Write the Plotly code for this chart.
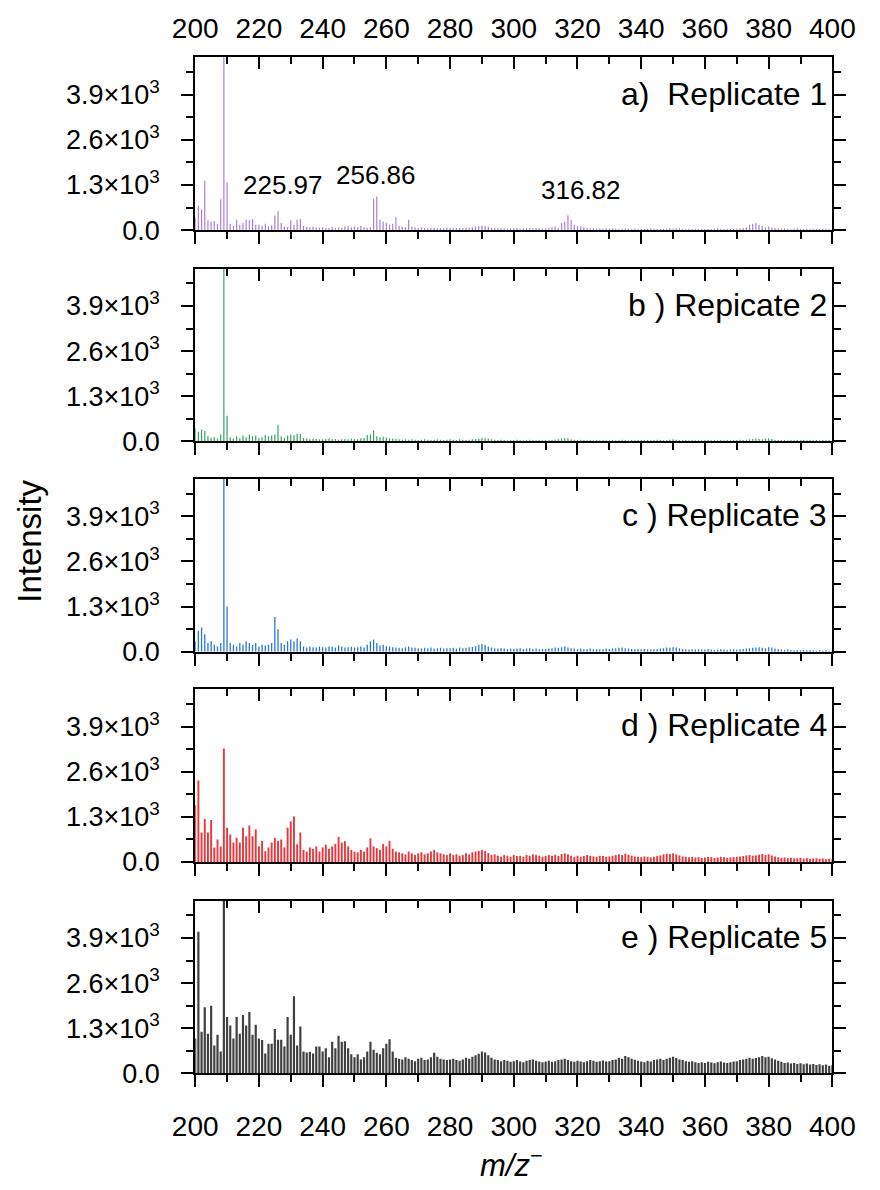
import plotly.graph_objects as go

# m/z grid (nominal masses)
mz = list(range(200, 401))

# ---- intensities (one value per nominal mass 200..400) ----
rep1 = [
    370, 710, 600, 1420, 280, 250, 260, 180, 890, 5200,   # 200-209
    1370, 180, 120, 300, 150, 200, 300, 280, 320, 150,    # 210-219
    150, 120, 180, 100, 130, 420, 540, 200, 100, 90,      # 220-229
    280, 150, 300, 320, 120, 90, 80, 100, 80, 70,         # 230-239
    80, 60, 70, 90, 60, 80, 70, 100, 120, 80,             # 240-249
    100, 90, 120, 80, 70, 90, 900, 970, 300, 250,         # 250-259
    200, 150, 180, 370, 120, 100, 90, 300, 100, 80,       # 260-269
    60, 80, 60, 50, 70, 60, 50, 60, 50, 70,               # 270-279
    60, 50, 60, 70, 50, 60, 70, 80, 100, 120,             # 280-289
    130, 120, 100, 70, 60, 50, 60, 50, 40, 50,            # 290-299
    50, 60, 40, 50, 60, 70, 50, 60, 50, 40,               # 300-309
    50, 60, 80, 100, 70, 200, 250, 430, 300, 150,         # 310-319
    120, 100, 80, 60, 50, 60, 40, 50, 40, 50,             # 320-329
    40, 50, 40, 30, 40, 50, 40, 30, 40, 30,               # 330-339
    40, 30, 40, 50, 40, 30, 40, 30, 40, 50,               # 340-349
    40, 60, 50, 40, 30, 40, 30, 40, 30, 40,               # 350-359
    30, 40, 30, 40, 50, 40, 30, 40, 30, 40,               # 360-369
    40, 50, 60, 80, 150, 180, 200, 150, 120, 80,          # 370-379
    100, 80, 60, 50, 40, 50, 40, 30, 40, 50,              # 380-389
    40, 30, 40, 30, 40, 30, 40, 30, 40, 30,               # 390-399
    30,                                                   # 400
]

rep2 = [
    370, 280, 340, 300, 150, 100, 120, 80, 200, 5200,
    740, 120, 80, 150, 100, 170, 120, 200, 150, 170,
    100, 120, 180, 150, 170, 200, 480, 150, 100, 170,
    200, 180, 220, 210, 100, 80, 60, 80, 70, 60,
    60, 70, 80, 60, 70, 50, 60, 70, 60, 80,
    70, 60, 90, 100, 180, 200, 310, 150, 120, 130,
    110, 90, 80, 70, 60, 50, 60, 50, 60, 50,
    40, 50, 60, 50, 40, 50, 60, 50, 40, 50,
    60, 50, 40, 60, 50, 40, 50, 60, 70, 80,
    100, 90, 80, 60, 50, 40, 50, 40, 30, 40,
    40, 50, 40, 30, 40, 50, 40, 30, 40, 30,
    40, 30, 40, 50, 60, 80, 100, 90, 60, 50,
    40, 50, 40, 30, 40, 30, 40, 30, 40, 30,
    30, 40, 30, 40, 50, 40, 30, 40, 30, 40,
    40, 30, 40, 30, 40, 50, 40, 30, 40, 50,
    60, 50, 40, 30, 40, 30, 40, 30, 40, 30,
    30, 40, 30, 40, 30, 40, 30, 40, 30, 40,
    40, 50, 40, 50, 60, 70, 80, 70, 60, 80,
    90, 70, 50, 40, 30, 40, 30, 40, 30, 40,
    30, 40, 30, 40, 30, 40, 30, 40, 30, 30,
    30,
]

rep3 = [
    300, 600, 700, 500, 250, 300, 200, 150, 250, 5200,
    1300, 250, 200, 150, 250, 200, 300, 250, 200, 250,
    150, 200, 180, 200, 250, 1000, 650, 250, 200, 300,
    350, 300, 380, 300, 150, 120, 150, 130, 120, 150,
    130, 120, 150, 140, 120, 180, 150, 120, 130, 140,
    120, 130, 150, 120, 200, 300, 350, 250, 180, 200,
    160, 150, 130, 120, 110, 100, 130, 150, 120, 110,
    100, 90, 110, 100, 120, 90, 100, 110, 90, 100,
    100, 110, 90, 120, 100, 110, 130, 140, 160, 200,
    220, 200, 150, 120, 100, 90, 100, 90, 80, 90,
    80, 90, 100, 80, 90, 100, 80, 90, 70, 80,
    80, 90, 100, 120, 110, 130, 150, 120, 100, 90,
    80, 90, 70, 80, 90, 70, 80, 70, 80, 90,
    80, 90, 100, 110, 120, 100, 90, 80, 70, 80,
    70, 80, 70, 60, 70, 80, 90, 100, 120, 110,
    130, 120, 100, 80, 70, 60, 70, 60, 70, 60,
    60, 70, 60, 50, 60, 70, 60, 50, 60, 70,
    60, 70, 80, 90, 100, 110, 120, 130, 110, 100,
    130, 120, 90, 70, 60, 50, 60, 50, 40, 50,
    40, 50, 40, 50, 40, 30, 40, 30, 40, 30,
    30,
]

rep4 = [
    1640, 2350, 850, 1240, 850, 1210, 420, 650, 450, 3270,
    990, 790, 560, 700, 560, 990, 740, 1050, 740, 940,
    450, 610, 310, 420, 560, 700, 610, 650, 420, 990,
    1170, 1310, 510, 850, 350, 300, 420, 380, 450, 300,
    420, 500, 380, 450, 520, 720, 560, 600, 450, 350,
    300, 280, 350, 300, 420, 680, 450, 400, 350, 520,
    450, 610, 380, 300, 280, 250, 220, 300, 250, 200,
    250, 280, 220, 250, 300, 350, 280, 250, 220, 200,
    250, 200, 220, 180, 200, 250, 220, 280, 300, 320,
    350, 320, 260, 200, 220, 180, 150, 200, 180, 150,
    200, 170, 180, 150, 200, 180, 220, 200, 180, 150,
    170, 200, 180, 210, 170, 230, 250, 220, 180, 150,
    180, 150, 170, 200, 180, 160, 150, 180, 170, 150,
    160, 180, 200, 220, 200, 240, 210, 180, 160, 150,
    140, 160, 150, 130, 150, 170, 190, 220, 240, 230,
    250, 220, 190, 160, 150, 140, 150, 130, 140, 120,
    130, 150, 140, 120, 130, 150, 140, 120, 130, 140,
    150, 160, 170, 190, 200, 180, 190, 210, 230, 200,
    220, 190, 160, 140, 120, 130, 110, 120, 100, 110,
    120, 100, 110, 90, 100, 110, 90, 100, 80, 90,
    80,
]

rep5 = [
    1000, 4080, 1200, 1900, 1140, 1950, 800, 1110, 630, 5200,
    1620, 1380, 1000, 1620, 1140, 1680, 1380, 1770, 1110, 1400,
    1000, 960, 570, 855, 855, 1280, 970, 970, 770, 1620,
    1110, 2220, 800, 1350, 630, 600, 620, 570, 770, 770,
    630, 720, 460, 910, 720, 1080, 910, 920, 720, 550,
    460, 550, 400, 460, 630, 910, 680, 590, 550, 720,
    855, 980, 630, 450, 420, 400, 460, 420, 380, 350,
    420, 450, 380, 400, 460, 590, 480, 420, 400, 380,
    400, 420, 380, 360, 400, 450, 420, 480, 520, 560,
    630, 600, 520, 450, 400, 380, 350, 380, 360, 330,
    350, 380, 340, 320, 360, 380, 400, 360, 340, 320,
    340, 360, 330, 350, 380, 400, 420, 380, 350, 330,
    360, 340, 320, 350, 380, 360, 330, 350, 370, 340,
    350, 380, 400, 450, 420, 500, 460, 420, 390, 360,
    340, 320, 360, 340, 380, 400, 420, 380, 420, 450,
    480, 440, 400, 380, 350, 330, 350, 320, 300, 320,
    300, 330, 310, 290, 320, 340, 310, 300, 320, 340,
    350, 380, 400, 420, 450, 420, 440, 460, 500, 460,
    480, 430, 400, 360, 330, 300, 310, 280, 300, 270,
    290, 260, 280, 250, 270, 240, 260, 230, 250, 220,
    230,
]

series = [rep1, rep2, rep3, rep4, rep5]
panel_labels = ["a)\u00a0 Replicate 1", "b )\u00a0Repicate 2", "c )\u00a0Replicate 3",
                "d )\u00a0Replicate 4", "e )\u00a0Replicate 5"]
colors = ["#a97fd8", "#35a466", "#2a78d2", "#e8383d", "#404040"]
line_widths = [1.2, 1.2, 1.3, 1.9, 2.2]

peak_labels = ["225.97", "256.86", "316.82"]
peak_label_x = [227.7, 256.8, 321.0]
peak_label_y = [1310, 1580, 1150]

y_tickvals = [0, 1300, 2600, 3900]
y_ticktext = ["0.0", "1.3×10<sup>3</sup>", "2.6×10<sup>3</sup>", "3.9×10<sup>3</sup>"]
y_minor = [650, 1950, 3250, 4550]
x_range = [200, 400]
y_range = [0, 4980]

W, H = 880, 1190
left_px, right_px = 181.7, 854.0
panel_tops = [58, 272, 485, 698, 912]
panel_h = 175

FONT = "Liberation Sans, Arial, sans-serif"

fig = go.Figure()
layout = dict(
    width=W, height=H, margin=dict(l=0, r=0, t=0, b=0),
    paper_bgcolor="white", plot_bgcolor="white", showlegend=False,
    font=dict(family=FONT, color="black"),
)

n = len(series)
for i in range(n):
    k = "" if i == 0 else str(i + 1)
    tk = str(n + 1 + i)
    xs, ys = [], []
    for m, v in zip(mz, series[i]):
        xs += [m, m, None]
        ys += [0, v, None]
    fig.add_trace(go.Scatter(
        x=xs, y=ys, mode="lines", line=dict(color=colors[i], width=line_widths[i]),
        xaxis="x" + k, yaxis="y" + k, hoverinfo="skip", showlegend=False))
    # empty trace so that the top (inward-tick) axis gets drawn
    fig.add_trace(go.Scatter(
        x=[None], y=[None], mode="lines", xaxis="x" + tk, yaxis="y" + k,
        hoverinfo="skip", showlegend=False))

    top = panel_tops[i]
    y0 = 1 - (top + panel_h) / H
    y1 = 1 - top / H
    xdom = [left_px / W, right_px / W]

    layout["xaxis" + k] = dict(
        domain=xdom, anchor="y" + k, range=x_range, tickmode="linear", tick0=200, dtick=20,
        ticks="outside", ticklen=12, tickwidth=2, tickcolor="black",
        showline=True, linewidth=2, linecolor="black", mirror=False,
        showgrid=False, zeroline=False, showticklabels=(i == n - 1),
        tickfont=dict(size=28, family=FONT, color="black"), ticklabelstandoff=15,
        minor=dict(dtick=10, tick0=200, ticks="outside", ticklen=7, tickwidth=2, tickcolor="black", showgrid=False),
    )
    layout["yaxis" + k] = dict(
        domain=[y0, y1], anchor="x" + k, range=y_range, tickmode="array",
        tickvals=y_tickvals, ticktext=y_ticktext,
        ticks="outside", ticklen=12, tickwidth=2, tickcolor="black",
        showline=True, linewidth=2, linecolor="black", mirror="ticks",
        showgrid=False, zeroline=False,
        tickfont=dict(size=27, family=FONT, color="black"), ticklabelstandoff=16,
        minor=dict(tickmode="array", tickvals=y_minor, ticks="outside", ticklen=7, tickwidth=2, tickcolor="black", showgrid=False),
    )
    layout["xaxis" + tk] = dict(
        visible=True, overlaying="x" + k, anchor="y" + k, side="top", range=x_range,
        tickmode="linear", tick0=200, dtick=20,
        ticks="inside", ticklen=12, tickwidth=2, tickcolor="black",
        showline=True, linewidth=2, linecolor="black",
        showgrid=False, zeroline=False, showticklabels=(i == 0),
        tickfont=dict(size=28, family=FONT, color="black"), ticklabelstandoff=6,
        minor=dict(dtick=10, tick0=200, ticks="inside", ticklen=7, tickwidth=2, tickcolor="black", showgrid=False),
    )

annotations = []
for i in range(n):
    k = "" if i == 0 else str(i + 1)
    annotations.append(dict(
        text=panel_labels[i], xref="x" + k + " domain", yref="y" + k + " domain",
        x=0.994, y=0.79, xanchor="right", yanchor="middle", showarrow=False,
        font=dict(size=32, family=FONT, color="black")))

for t, px, py in zip(peak_labels, peak_label_x, peak_label_y):
    annotations.append(dict(
        text=t, xref="x", yref="y", x=px, y=py, xanchor="center", yanchor="middle",
        showarrow=False, font=dict(size=26, family=FONT, color="black")))

annotations.append(dict(
    text="Intensity", xref="paper", yref="paper", x=6 / W, y=1 - 548 / H,
    xanchor="center", yanchor="middle", textangle=-90, showarrow=False,
    font=dict(size=33, family=FONT, color="black")))
annotations.append(dict(
    text="<i>m/z</i><sup>−</sup>", xref="paper", yref="paper", x=515 / W, y=1 - 1178 / H,
    xanchor="center", yanchor="middle", showarrow=False,
    font=dict(size=31, family=FONT, color="black")))

layout["annotations"] = annotations
fig.update_layout(**layout)
fig.write_html("out.html")
